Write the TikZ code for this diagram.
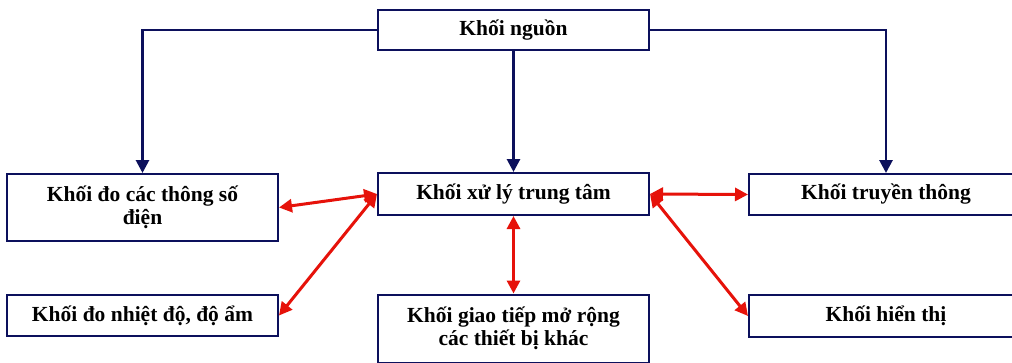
\documentclass[tikz,border=0pt]{standalone}
\usepackage{fontspec}
\setmainfont{Liberation Serif}
\usetikzlibrary{arrows.meta}
\definecolor{navy}{RGB}{12,16,92}
\definecolor{redarr}{RGB}{230,18,10}
\begin{document}
\begin{tikzpicture}[x=1pt,y=-1pt,
  box/.style={draw=navy,line width=2pt,fill=white,minimum width=271pt,inner sep=2pt,align=center,
    font=\fontsize{21.5}{23.5}\selectfont\bfseries,text=black},
  feed/.style={draw=navy,line width=2.8pt,-{Triangle[length=13pt,width=13pt]}},
  link/.style={draw=redarr,line width=3pt,{Triangle[length=13pt,width=13pt]}-{Triangle[length=13pt,width=13pt]}}]
\useasboundingbox (0,0) rectangle (1012,362);
\clip (0,0) rectangle (1012,362);
\fill[white] (0,0) rectangle (1012,362);
\node[box,minimum height=40pt] (nguon) at (513.5,30) {Khối nguồn};
\node[box,minimum height=67pt] (doTS) at (142.5,207.5) {Khối đo các thông số\\điện};
\node[box,minimum height=42pt] (xuly) at (513.5,194) {Khối xử lý trung tâm};
\node[box,minimum width=274pt,minimum height=41pt] (truyen) at (886,194.5) {Khối truyền thông};
\node[box,minimum height=41pt] (nhiet) at (142.5,315.5) {Khối đo nhiệt độ, độ ẩm};
\node[box,minimum height=68pt] (giao) at (513.5,328.5) {Khối giao tiếp mở rộng\\các thiết bị khác};
\node[box,minimum width=274pt,minimum height=42pt] (hien) at (886,316) {Khối hiển thị};
\draw[feed] (nguon.west) -| (doTS.north);
\draw[feed] (nguon.east) -| (truyen.north);
\draw[feed] (nguon.south) -- (xuly.north);
\draw[link] (xuly.west) -- (doTS.east);
\draw[link] (xuly.west) -- (nhiet.east);
\draw[link] (xuly.east) -- (truyen.west);
\draw[link] (xuly.east) -- (hien.west);
\draw[link] (xuly.south) -- (giao.north);
\end{tikzpicture}
\end{document}
